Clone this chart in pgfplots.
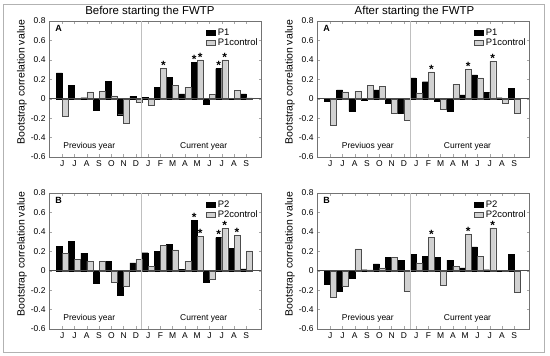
\documentclass[border=0pt]{standalone}
\usepackage{pgfplots}
\pgfplotsset{compat=1.18}
\usepackage{pgfplotstable}
\usepackage{fontspec}
\setmainfont{Liberation Sans}

\pgfplotstableread{
x p c sp sc
0 0.265 -0.18 {} {}
1 0.14 -0.005 {} {}
2 0.01 0.07 {} {}
3 -0.12 0.08 {} {}
4 0.18 0.03 {} {}
5 -0.165 -0.25 {} {}
6 0.025 -0.04 {} {}
7 0.015 -0.07 {} {}
8 0.115 0.31 {} *
9 0.22 0.14 {} {}
10 0.05 0.12 {} {}
11 0.375 0.40 * *
12 -0.06 0.045 {} {}
13 0.31 0.40 * *
14 -0.005 0.085 {} {}
15 0.05 0.01 {} {}
}\TL

\pgfplotstableread{
x p c sp sc
0 -0.03 -0.27 {} {}
1 0.09 0.07 {} {}
2 -0.13 0.075 {} {}
3 -0.015 0.135 {} {}
4 0.09 0.13 {} {}
5 -0.045 -0.145 {} {}
6 -0.15 -0.22 {} {}
7 0.215 0.06 {} {}
8 0.175 0.275 {} *
9 -0.03 -0.11 {} {}
10 -0.13 0.15 {} {}
11 0.04 0.305 {} *
12 0.245 0.215 {} {}
13 0.065 0.385 {} *
14 0.01 -0.05 {} {}
15 0.11 -0.145 {} {}
}\TR

\pgfplotstableread{
x p c sp sc
0 0.25 0.18 {} {}
1 0.30 0.12 {} {}
2 0.18 0.10 {} {}
3 -0.13 0.095 {} {}
4 0.10 -0.115 {} {}
5 -0.25 -0.16 {} {}
6 0.08 0.12 {} {}
7 0.185 0.045 {} {}
8 0.20 0.26 {} {}
9 0.27 0.215 {} {}
10 0.015 0.10 {} {}
11 0.52 0.355 * *
12 -0.12 -0.09 {} {}
13 0.34 0.435 * *
14 0.23 0.365 {} *
15 0.02 0.205 {} {}
}\BL

\pgfplotstableread{
x p c sp sc
0 -0.14 -0.27 {} {}
1 -0.215 -0.16 {} {}
2 -0.075 0.225 {} {}
3 0.01 0.01 {} {}
4 0.07 0.03 {} {}
5 0.14 0.14 {} {}
6 0.11 -0.215 {} {}
7 0.17 0.08 {} {}
8 0.145 0.345 {} *
9 0.14 -0.145 {} {}
10 0.11 0.045 {} {}
11 0.03 0.375 {} *
12 0.245 0.145 {} {}
13 0.01 0.44 {} *
14 -0.01 -0.005 {} {}
15 0.17 -0.225 {} {}
}\BR

\pgfplotsset{
  panel/.style={
    scale only axis, width=212bp, height=136bp,
    anchor=south west,
    xmin=-1.08, xmax=16.2, ymin=-0.6, ymax=0.8,
    ybar=0pt, bar width=6bp,
    xtick={0,1,2,3,4,5,6,7,8,9,10,11,12,13,14,15},
    xticklabels={J,J,A,S,O,N,D,J,F,M,A,M,J,J,A,S},
    ytick={-0.6,-0.4,-0.2,0,0.2,0.4,0.6,0.8},
    yticklabels={-0.6,-0.4,-0.2,0,0.2,0.4,0.6,0.8},
    tick label style={font=\fontsize{8.5}{9}\selectfont},
    axis line style={black!55},
    tick style={black!35, thin},
    major tick length=2.5bp,
    tick align=inside,
    clip=false,
    legend style={draw=none, fill=none, at={(rel axis cs:0.995,0.96)}, anchor=north east,
      font=\fontsize{9.5}{9.5}\selectfont, inner sep=0pt, row sep=-2pt,
      /tikz/every odd column/.append style={column sep=0pt}},
    legend cell align=left,
    legend image code/.code={\draw[#1] (0bp,-2.5bp) rectangle (9bp,2.5bp);},
    nodes near coords={\textbf{\pgfplotspointmeta}},
    every node near coord/.append style={font=\fontsize{12}{12}\selectfont, inner sep=0.5pt, yshift=-2bp},
    point meta=explicit symbolic,
  },
  blk/.style={fill=black, draw=black, line width=0.4pt},
  gry/.style={fill=black!18, draw=black!70, line width=0.4pt},
}

\newcommand\decor[3]{%
  \draw[black!70, line width=0.6pt] (axis cs:-1.08,0) -- (axis cs:16.2,0);
  \draw[black!25, line width=1pt] (axis cs:6.5,-0.6) -- (axis cs:6.5,0.8);
  \node[font=\fontsize{9}{9}\selectfont\bfseries] at (rel axis cs:0.045,0.945) {#1};
  \node[font=\fontsize{8.5}{9}\selectfont] at (rel axis cs:#2,0.075) {#3};
  \node[rotate=90, font=\fontsize{10.5}{11}\selectfont] at ([xshift=-27bp]rel axis cs:0,0.55) {Bootstrap correlation value};
}

\begin{document}
\begin{tikzpicture}
\useasboundingbox (0,0) rectangle (550bp,356bp);
\draw[black!30, line width=0.8pt] (3bp,4bp) rectangle (544bp,352bp);

% Top left
\begin{axis}[panel, at={(49bp,199bp)}]
\addplot[blk] table[x=x, y=p, meta=sp] {\TL};
\addplot[gry] table[x=x, y=c, meta=sc] {\TL};
\legend{P1,P1control}
\decor{A}{0.19}{Previous year}
\node[font=\fontsize{8.5}{9}\selectfont] at (rel axis cs:0.73,0.075) {Current year};
\node[font=\fontsize{11.5}{12}\selectfont, anchor=south] at ([yshift=0.5bp]rel axis cs:0.476,1) {Before starting the FWTP};
\end{axis}

% Top right
\begin{axis}[panel, at={(317bp,199bp)}]
\addplot[blk] table[x=x, y=p, meta=sp] {\TR};
\addplot[gry] table[x=x, y=c, meta=sc] {\TR};
\legend{P1,P1control}
\decor{A}{0.24}{Previuos year}
\node[font=\fontsize{8.5}{9}\selectfont] at (rel axis cs:0.71,0.075) {Current year};
\node[font=\fontsize{11.5}{12}\selectfont, anchor=south] at ([yshift=0.5bp]rel axis cs:0.46,1) {After starting the FWTP};
\end{axis}

% Bottom left
\begin{axis}[panel, at={(49bp,27bp)}]
\addplot[blk] table[x=x, y=p, meta=sp] {\BL};
\addplot[gry] table[x=x, y=c, meta=sc] {\BL};
\legend{P2,P2control}
\decor{B}{0.19}{Previous year}
\node[font=\fontsize{8.5}{9}\selectfont] at (rel axis cs:0.73,0.075) {Current year};
\end{axis}

% Bottom right
\begin{axis}[panel, at={(317bp,27bp)}]
\addplot[blk] table[x=x, y=p, meta=sp] {\BR};
\addplot[gry] table[x=x, y=c, meta=sc] {\BR};
\legend{P2,P2control}
\decor{B}{0.24}{Previous year}
\node[font=\fontsize{8.5}{9}\selectfont] at (rel axis cs:0.71,0.075) {Current year};
\end{axis}
\end{tikzpicture}
\end{document}
